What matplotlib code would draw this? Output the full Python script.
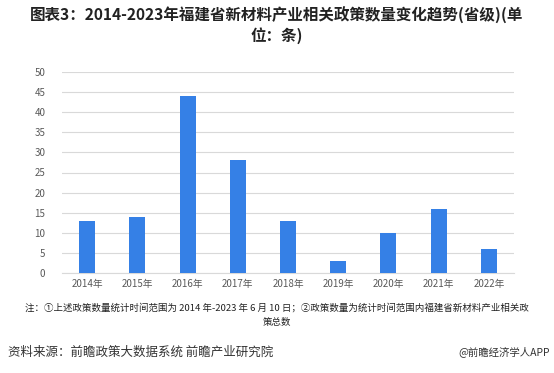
import matplotlib.pyplot as plt
import numpy as np

plt.rcParams['font.family'] = ['Noto Sans CJK SC', 'DejaVu Sans']

# 数据
years = ['2014年', '2015年', '2016年', '2017年', '2018年', '2019年', '2020年', '2021年', '2022年']
counts = [13, 14, 44, 28, 13, 3, 10, 16, 6]
yticks = [0, 5, 10, 15, 20, 25, 30, 35, 40, 45, 50]

W, H = 554, 373
fig = plt.figure(figsize=(W / 100, H / 100), dpi=100)
ax = fig.add_axes([62 / W, 1 - 273 / H, 452 / W, 201 / H])

x = np.arange(len(years))
ax.bar(x, counts, width=0.32, color='#3580E6', zorder=3)

ax.set_xlim(-0.5, len(years) - 0.5)
ax.set_ylim(0, 50)
ax.set_yticks(yticks)
ax.set_xticks(x)
ax.set_xticklabels(years)
ax.tick_params(axis='both', length=0, labelsize=7, colors='#595959')
ax.tick_params(axis='y', pad=12)
ax.tick_params(axis='x', pad=4)
ax.grid(axis='y', color='#d9d9d9', linewidth=0.8, zorder=0)
for s in ['top', 'right', 'left']:
    ax.spines[s].set_visible(False)
ax.spines['bottom'].set_color('#d9d9d9')

def fy(y):
    return 1 - y / H

fig.text(0.5, fy(15), '图表3：2014-2023年福建省新材料产业相关政策数量变化趋势(省级)(单',
         ha='center', va='center', fontsize=11.2, fontweight='bold', color='#222222')
fig.text(0.5, fy(36), '位：条)', ha='center', va='center', fontsize=11.2,
         fontweight='bold', color='#222222')

fig.text(0.5, fy(308), '注：①上述政策数量统计时间范围为 2014 年-2023 年 6 月 10 日；②政策数量为统计时间范围内福建省新材料产业相关政',
         ha='center', va='center', fontsize=6.8, color='#222222')
fig.text(0.5, fy(323), '策总数', ha='center', va='center', fontsize=6.8, color='#222222')

fig.text(8 / W, fy(352), '资料来源：前瞻政策大数据系统 前瞻产业研究院', ha='left', va='center',
         fontsize=9, color='#333333')
fig.text(550 / W, fy(352), '@前瞻经济学人APP', ha='right', va='center',
         fontsize=7.5, color='#333333')

fig.savefig('out.png', dpi=100)
